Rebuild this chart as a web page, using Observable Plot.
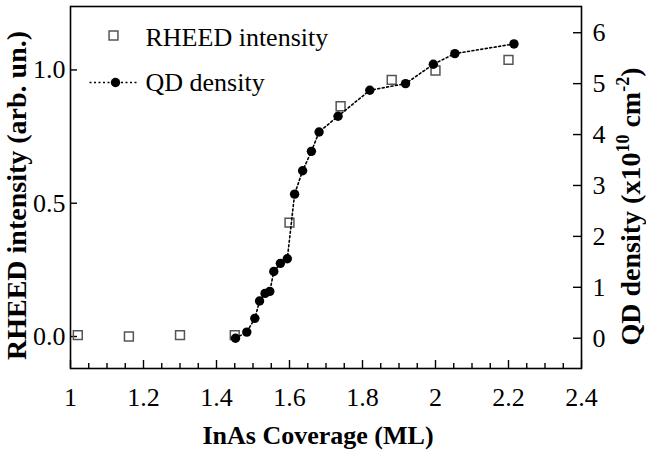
<!DOCTYPE html>
<html><head><meta charset="utf-8">
<script src="https://cdn.jsdelivr.net/npm/d3@7"></script>
<script src="https://cdn.jsdelivr.net/npm/@observablehq/plot@0.6"></script>
<style>body{margin:0;background:#fff}</style>
</head><body><div id="chart"></div>
<script>
// RHEED intensity (open squares, left axis)
const rheedX = [1.02, 1.16, 1.30, 1.45, 1.60, 1.74, 1.88, 2.00, 2.20];
const rheedY = [0.005, 0.0, 0.005, 0.005, 0.427, 0.864, 0.963, 0.998, 1.038];
// QD density (filled circles, right axis, x10^10 cm^-2)
const qdX = [1.452, 1.483, 1.505, 1.518, 1.533, 1.546, 1.557, 1.575, 1.594, 1.614, 1.636, 1.660, 1.681, 1.733, 1.820, 1.918, 1.994, 2.053, 2.215];
const qdY = [0.0, 0.12, 0.39, 0.73, 0.88, 0.92, 1.31, 1.47, 1.56, 2.83, 3.29, 3.67, 4.05, 4.36, 4.87, 5.00, 5.38, 5.59, 5.78];
// ticks
const xTicks = [1, 1.2, 1.4, 1.6, 1.8, 2, 2.2, 2.4];
const xTickLabels = ["1", "1.2", "1.4", "1.6", "1.8", "2", "2.2", "2.4"];
const leftTicks = [0, 0.5, 1.0];
const leftTickLabels = ["0.0", "0.5", "1.0"];
const rightTicks = [0, 1, 2, 3, 4, 5, 6];
const rightTickLabels = ["0", "1", "2", "3", "4", "5", "6"];
const xLabel = "InAs Coverage (ML)";
const yLeftLabel = "RHEED intensity (arb. un.)";
const yRightLabel = "QD density (x10^10 cm^-2)";
const legendLabels = ["RHEED intensity", "QD density"];

// right-axis units mapped onto the left (RHEED) scale
const qdToY = q => q * 0.191 - 0.0064;

const xMinor = d3.range(0, 29).map(i => +(1 + i * 0.05).toFixed(2)).filter(v => !xTicks.includes(v));
const rheed = rheedX.map((x, i) => ({x, y: rheedY[i]}));
const qd = qdX.map((x, i) => ({x, y: qdToY(qdY[i])}));
const xLab = new Map(xTicks.map((t, i) => [t, xTickLabels[i]]));
const lLab = new Map(leftTicks.map((t, i) => [t, leftTickLabels[i]]));
const rPos = rightTicks.map(qdToY);
const rLab = new Map(rPos.map((t, i) => [t, rightTickLabels[i]]));

const lineSymbol = {draw(ctx) { ctx.moveTo(-26, 0); ctx.lineTo(23, 0); }};

const FS = 26;
const mid = {textAnchor: "middle", lineAnchor: "middle"};
const chart = Plot.plot({
  width: 646, height: 456,
  marginLeft: 70, marginRight: 65, marginTop: 6, marginBottom: 88,
  style: {fontFamily: "'Liberation Serif', 'Times New Roman', serif", fontSize: FS + "px", color: "black", background: "white"},
  x: {domain: [1, 2.4]},
  y: {domain: [-0.12, 1.238]},
  marks: [
    Plot.frame({stroke: "black", strokeWidth: 1.6}),
    Plot.axisX(xTicks, {tickSize: -8, fill: "none", strokeWidth: 1.4, label: null}),
    Plot.axisX(xMinor, {tickSize: -5, fill: "none", strokeWidth: 1.4, label: null}),
    Plot.axisX(xTicks, {tickSize: 0, tickPadding: 19, tickFormat: d => xLab.get(d), fontSize: FS, label: null}),
    Plot.axisY(leftTicks, {anchor: "left", tickSize: -7, fill: "none", strokeWidth: 1.4, label: null}),
    Plot.axisY(leftTicks, {anchor: "left", tickSize: 0, tickPadding: 5, tickFormat: d => lLab.get(d), fontSize: FS, label: null}),
    Plot.axisY(rPos, {anchor: "right", tickSize: -9, fill: "none", strokeWidth: 1.4, label: null}),
    Plot.axisY(rPos, {anchor: "right", tickSize: 0, tickPadding: 11, tickFormat: d => rLab.get(d), fontSize: FS, label: null}),
    // data
    Plot.dot(rheed, {x: "x", y: "y", symbol: "square", r: 5, stroke: "#555", strokeWidth: 1.5, fill: "none"}),
    Plot.line(qd, {x: "x", y: "y", stroke: "black", strokeWidth: 1.6, strokeDasharray: "2,2.5"}),
    Plot.dot(qd, {x: "x", y: "y", r: 4.7, fill: "black"}),
    // legend
    Plot.dot([0], {frameAnchor: "top-left", dx: 43, dy: 29, symbol: "square", r: 5, stroke: "#555", strokeWidth: 1.5, fill: "none"}),
    Plot.text([legendLabels[0]], {frameAnchor: "top-left", textAnchor: "start", lineAnchor: "middle", dx: 75, dy: 31.5, fontSize: FS}),
    Plot.dot([0], {frameAnchor: "top-left", dx: 45, dy: 76, symbol: lineSymbol, stroke: "black", strokeWidth: 1.6, strokeDasharray: "2,2.5", fill: "none"}),
    Plot.dot([0], {frameAnchor: "top-left", dx: 45, dy: 76, r: 4.7, fill: "black"}),
    Plot.text([legendLabels[1]], {frameAnchor: "top-left", textAnchor: "start", lineAnchor: "middle", dx: 75, dy: 76.5, fontSize: FS}),
    // titles
    Plot.text([xLabel], {frameAnchor: "bottom", ...mid, dx: -8, dy: 67, fontSize: FS, fontWeight: "bold"}),
    Plot.text([yLeftLabel], {frameAnchor: "left", ...mid, rotate: -90, dx: -53, dy: 8, fontSize: 28, fontWeight: "bold"}),
    Plot.text([yRightLabel], {frameAnchor: "right", ...mid, rotate: -90, dx: 50, dy: 19, fontSize: 28, fontWeight: "bold"})
  ]
});
document.getElementById("chart").appendChild(chart);

// superscripts in the right title
for (const t of chart.querySelectorAll("text")) {
  if (t.textContent === yRightLabel) {
    t.textContent = "";
    const NS = "http://www.w3.org/2000/svg";
    const add = (s, opts = {}) => {
      const ts = document.createElementNS(NS, "tspan");
      ts.textContent = s;
      for (const k in opts) ts.setAttribute(k, opts[k]);
      t.appendChild(ts);
    };
    add("QD density (x10");
    add("10", {"font-size": "18", dy: "-11"});
    add(" cm", {dy: "11"});
    add("-2", {"font-size": "18", dy: "-11"});
    add(")", {dy: "11"});
  }
}
</script>
</body></html>
